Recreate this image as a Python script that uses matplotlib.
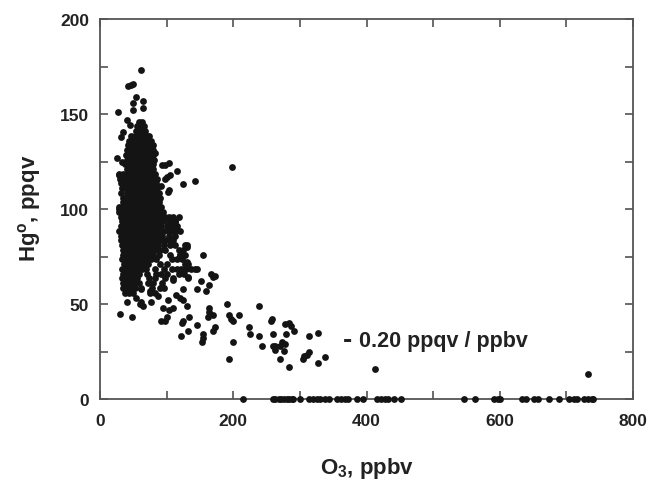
import matplotlib
matplotlib.use("Agg")
import matplotlib.pyplot as plt

plt.rcParams["font.family"] = ["Liberation Sans", "DejaVu Sans"]
plt.rcParams["font.weight"] = "bold"
plt.rcParams["mathtext.fontset"] = "custom"
plt.rcParams["mathtext.rm"] = "Liberation Sans:bold"
plt.rcParams["mathtext.bf"] = "Liberation Sans:bold"
plt.rcParams["mathtext.default"] = "bf"

# Dense part of the cloud, read row by row: one Hg level, its O3 values
cloud_hg = [146, 143.5, 141, 138.5, 136, 133.5, 131, 128.5, 126, 123.5, 121, 118.5, 116, 113.5,
            111, 108.5, 106, 103.5, 101, 98.5, 96, 93.5, 91, 88.5, 86, 83.5, 81, 78.5, 76, 73.5,
            71, 68.5, 66, 63.5, 61, 58.5, 56]
cloud_o3 = [
    [59, 63],
    [56, 61, 66],
    [54, 59, 64, 68],
    [47, 53, 59, 64, 70, 73],
    [44, 50, 56, 62, 67, 73, 77],
    [42, 46, 52, 58, 64, 70, 75, 79],
    [40, 43, 49, 55, 61, 67, 72, 77, 80],
    [39, 45, 51, 57, 63, 69, 74, 79],
    [41, 47, 53, 59, 65, 71, 77, 81],
    [38, 44, 50, 56, 62, 68, 74, 79],
    [40, 46, 52, 58, 64, 70, 76, 80],
    [29, 34, 42, 48, 54, 60, 66, 72, 78, 83],
    [30, 36, 39, 45, 51, 57, 63, 69, 75, 81, 86],
    [31, 37, 43, 49, 55, 61, 67, 73, 79, 84],
    [33, 38, 45, 51, 57, 63, 69, 75, 81, 86],
    [32, 40, 47, 53, 59, 65, 71, 77, 83, 88],
    [34, 38, 44, 50, 56, 62, 68, 74, 80, 85, 90],
    [35, 41, 47, 53, 59, 65, 71, 77, 83, 88],
    [29, 33, 38, 44, 50, 56, 62, 68, 74, 80, 86, 92],
    [28, 34, 41, 47, 53, 59, 65, 71, 77, 83, 89, 95],
    [31, 37, 43, 49, 55, 61, 67, 73, 79, 85, 91, 98, 104, 110],
    [33, 40, 46, 52, 58, 64, 70, 76, 82, 88, 95, 103, 112],
    [31, 37, 43, 49, 55, 61, 67, 73, 79, 85, 92, 100, 108, 116],
    [29, 35, 41, 47, 53, 59, 65, 71, 77, 83, 89, 96, 103, 108, 112, 120],
    [32, 38, 44, 50, 56, 62, 68, 74, 80, 86, 93, 104, 112],
    [31, 37, 43, 49, 55, 61, 67, 73, 79, 85, 91, 99, 105, 109],
    [33, 39, 45, 51, 57, 63, 69, 75, 81, 87, 96, 105, 113, 127, 131],
    [35, 41, 47, 53, 59, 65, 71, 77, 83, 90, 97, 118, 125],
    [34, 38, 44, 50, 56, 62, 68, 74, 80, 88, 105, 120, 128],
    [33, 40, 46, 52, 58, 64, 70, 76, 84, 108, 116, 123],
    [36, 42, 48, 54, 60, 66, 72, 90, 100, 127, 132],
    [33, 39, 45, 51, 57, 63, 69, 83, 96, 108, 115, 122, 129, 136, 142, 146],
    [35, 41, 47, 53, 59, 71, 84, 92, 101, 118, 126],
    [33, 38, 44, 50, 56, 74, 82, 98, 110, 132],
    [34, 41, 47, 53, 59, 72, 80, 93],
    [35, 40, 46, 52, 62, 78, 90, 96],
    [37, 43, 50, 75, 82],
]

# Scattered points around the cloud and the tail towards high O3
sparse_o3 = [62, 50, 42, 47, 54, 64, 50, 49, 27, 65, 40, 45, 34, 32, 25, 33, 28, 28, 83, 93, 98, 104,
             115, 101, 105, 98, 92, 124, 142, 198, 104, 102, 119, 112, 104,
             154, 130, 130, 120, 166, 173, 170, 132, 152, 163, 145, 159, 124, 110, 114, 120, 125,
             190, 238, 130, 164, 164, 102, 95, 103, 110, 100, 92, 98, 133, 125, 123, 145, 132, 122,
             162, 169, 173, 170, 154, 154, 153, 194, 197, 199, 208, 224, 225, 238, 200, 194,
             30, 48, 40, 54, 62, 65, 60, 76, 87, 62, 75, 93,
             243, 256, 258, 260, 259, 263, 263, 270, 273, 277, 276, 270, 283, 278, 283, 287, 291,
             279, 313, 327, 313, 306, 310, 305, 327, 337, 413, 732]
sparse_hg = [173, 166, 164.5, 165.5, 159, 157, 156, 152, 151, 153, 147, 144, 140.5, 138, 127, 125, 118, 100, 129.5,
             123, 123, 124, 120, 117, 118, 116, 112, 113, 115, 122, 110, 109, 96, 93, 93,
             76, 72, 80, 76, 66, 65, 64, 64, 62, 60, 58, 57, 58, 62.5, 55, 53, 52,
             50, 49, 49, 48, 46, 52, 48, 47, 48, 43, 41, 41, 43, 41, 40, 39, 36, 33,
             43, 44, 38, 36, 34, 32, 30, 44, 42, 41, 44, 38, 34, 33, 30, 21,
             45, 43, 51, 53, 51, 49, 50, 51, 54, 58, 57, 59,
             28, 41, 42, 34, 28, 28, 26, 28, 30, 29, 25.5, 21, 17, 39.5, 40, 38.6, 36,
             34, 33, 35, 25, 22.5, 23, 21, 19, 22, 16, 13]

# Samples sitting on the zero line
zero_o3 = [215, 259, 263, 268, 272, 276, 280, 284, 288, 290, 300, 314, 320, 325, 330, 338, 343,
           356, 362, 368, 372, 386, 395, 416, 422, 428, 433, 441, 452,
           546, 563, 592, 598, 601, 634, 639, 652, 657, 674, 689, 704, 711, 716, 727, 733, 738, 740]

x_vals = list(sparse_o3) + list(zero_o3)
y_vals = list(sparse_hg) + [0] * len(zero_o3)
for hg, row in zip(cloud_hg, cloud_o3):
    x_vals += row
    y_vals += [hg] * len(row)

fig = plt.figure(figsize=(6.5, 4.81), dpi=100)
ax = fig.add_axes([100 / 650, 81 / 481, 533 / 650, 380 / 481])

ax.plot(x_vals, y_vals, "o", color="#141414", ms=4.9, mew=0, clip_on=False, zorder=3)

ax.set_xlim(0, 800)
ax.set_ylim(0, 200)
ax.set_xticks([0, 200, 400, 600, 800])
ax.set_xticks([100, 300, 500, 700], minor=True)
ax.set_yticks([0, 50, 100, 150, 200])
ax.set_yticks([25, 75, 125, 175], minor=True)
ax.tick_params(which="both", direction="in", top=True, right=True, color="#444444", width=1.1)
ax.tick_params(which="major", length=6, labelsize=12.5, labelcolor="#222222")
ax.tick_params(which="minor", length=6)
ax.tick_params(axis="x", which="major", pad=10)
ax.tick_params(axis="y", which="major", pad=8)
for spine in ax.spines.values():
    spine.set_color("#555555")
    spine.set_linewidth(1.3)

fig.text(30 / 650, 1 - 208 / 481, r"Hg$^{\mathrm{o}}$, ppqv", rotation=90, fontsize=16,
         color="#222222", ha="center", va="center")
fig.text(367 / 650, 1 - 469 / 481, r"O$_{3}$, ppbv", fontsize=16,
         color="#222222", ha="center", va="center")
ax.text(364, 31, "-", fontsize=20, color="#222222", ha="left", va="center")
ax.text(389, 31, "0.20 ppqv / ppbv", fontsize=15.5, color="#222222", ha="left", va="center")

fig.savefig("out.png", dpi=100)
